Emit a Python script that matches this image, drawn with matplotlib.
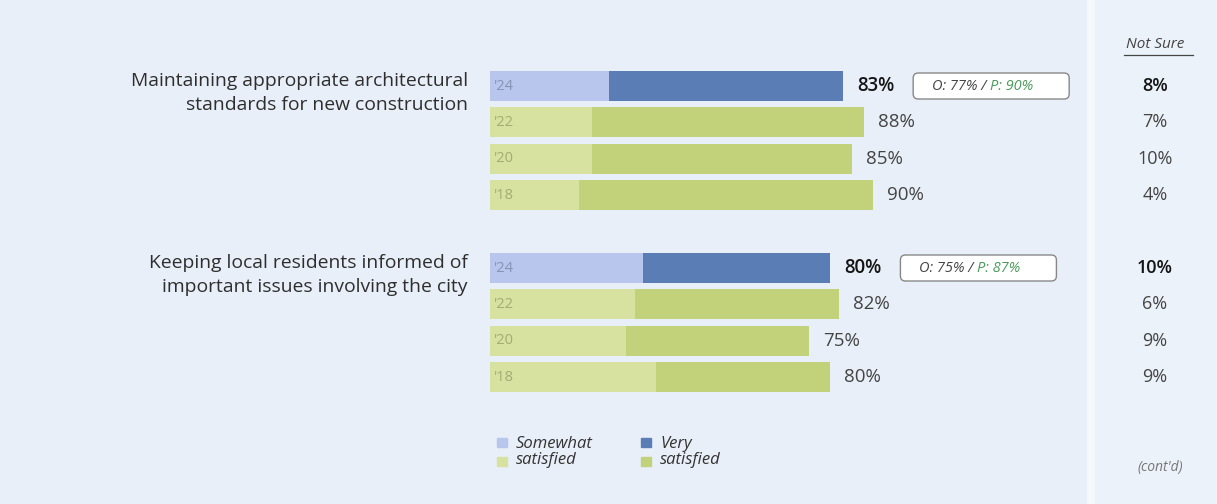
import matplotlib
matplotlib.use("Agg")
import matplotlib.pyplot as plt
from matplotlib.patches import Rectangle, FancyBboxPatch
import numpy as np

plt.rcParams['font.family'] = ['Open Sans', 'DejaVu Sans']

# data
questions = ["Maintaining appropriate architectural\nstandards for new construction",
             "Keeping local residents informed of\nimportant issues involving the city"]
years = ["'24", "'22", "'20", "'18"]
somewhat = [[28, 24, 24, 21], [36, 34, 32, 39]]
very = [[55, 64, 61, 69], [44, 48, 43, 41]]
totals = [[83, 88, 85, 90], [80, 82, 75, 80]]
not_sure = [[8, 7, 10, 4], [10, 6, 9, 9]]
other_2024 = [77, 75]
pct_2024 = [90, 87]

# colours
bg_left = "#e8eff8"
bg_right = "#ecf2fa"
bg_gap = "#f6f9fc"
c_light_blue = "#b8c6ee"
c_dark_blue = "#5b7db6"
c_light_green = "#d7e2a0"
c_dark_green = "#c2d27a"

W, H = 1217, 504
fig = plt.figure(figsize=(W / 100, H / 100), dpi=100)
fig.patch.set_facecolor(bg_gap)
ax = fig.add_axes([0, 0, 1, 1])
ax.set_axis_off()

# pixel <-> percent mapping for the bars
x0 = 490
ppp = 4.253  # pixels per percent
ax.set_xlim(-x0 / ppp, (W - x0) / ppp)
ax.set_ylim(H, 0)

def px(p):
    return (p - x0) / ppp

# panels
ax.add_patch(Rectangle((px(0), 0), px(1086) - px(0), H, color=bg_left, zorder=0))
ax.add_patch(Rectangle((px(1095), 0), px(W) - px(1095), H, color=bg_right, zorder=0))

group_top = [86, 268]
step = 36.4
bar_h = 30
ns_x = px(1155)

for g, q in enumerate(questions):
    ys = group_top[g] + step * np.arange(len(years))
    ax.text(px(468), ys[0] + 7, q, ha="right", va="center", fontsize=13.9,
            color="#2e2e2e", linespacing=1.38)
    for i, yr in enumerate(years):
        light = c_light_blue if i == 0 else c_light_green
        dark = c_dark_blue if i == 0 else c_dark_green
        ax.barh(ys[i], somewhat[g][i], height=bar_h, color=light, zorder=2)
        ax.barh(ys[i], very[g][i], left=somewhat[g][i], height=bar_h, color=dark, zorder=2)
        ax.text(1.0, ys[i], yr, ha="left", va="center", fontsize=10.5,
                color="#8794b4" if i == 0 else "#a3ac74", zorder=3)
        ax.text(totals[g][i] + 3.3, ys[i], f"{totals[g][i]}%", ha="left", va="center",
                fontsize=13.5, color="#151515" if i == 0 else "#444444",
                fontweight="semibold" if i == 0 else "normal", zorder=3)
        ax.text(ns_x, ys[i], f"{not_sure[g][i]}%", ha="center", va="center",
                fontsize=13, color="#151515" if i == 0 else "#444444",
                fontweight="semibold" if i == 0 else "normal", zorder=3)
    # O / P box
    bx = totals[g][0] + 3.3 + 13.2
    bw = 156 / ppp
    ax.add_patch(FancyBboxPatch((bx, ys[0] - 13), bw, 26,
                                boxstyle="round,pad=0,rounding_size=1.2",
                                mutation_aspect=ppp,
                                facecolor="white", edgecolor="#888888", lw=1.0, zorder=3))
    cx = bx + bw / 2
    ax.text(cx - 0.3, ys[0], f"O: {other_2024[g]}% / ", ha="right", va="center",
            fontsize=10.5, style="italic", color="#444444", zorder=4)
    ax.text(cx - 0.3, ys[0], f"P: {pct_2024[g]}%", ha="left", va="center",
            fontsize=10.5, style="italic", color="#4a9a5a", zorder=4)

# Not Sure header
ax.text(ns_x, 44, "Not Sure", ha="center", va="center", fontsize=11,
        style="italic", color="#444444")
ax.plot([px(1124), px(1193)], [55, 55], color="#444444", lw=0.9)

# legend
for k, (c_top, c_bot, label) in enumerate([(c_light_blue, c_light_green, "Somewhat\nsatisfied"),
                                            (c_dark_blue, c_dark_green, "Very\nsatisfied")]):
    lx = px(497 + 144 * k)
    ax.add_patch(Rectangle((lx, 438), 10 / ppp, 9, color=c_top, zorder=2))
    ax.add_patch(Rectangle((lx, 457), 10 / ppp, 9, color=c_bot, zorder=2))
    ax.text(lx + 19 / ppp, 452, label, ha="left", va="center", fontsize=12,
            style="italic", color="#333333", linespacing=1.0)

ax.text(px(1160), 468, "(cont'd)", ha="center", va="center", fontsize=10,
        style="italic", color="#777777")

fig.savefig("out.png", dpi=100, facecolor=fig.get_facecolor())
